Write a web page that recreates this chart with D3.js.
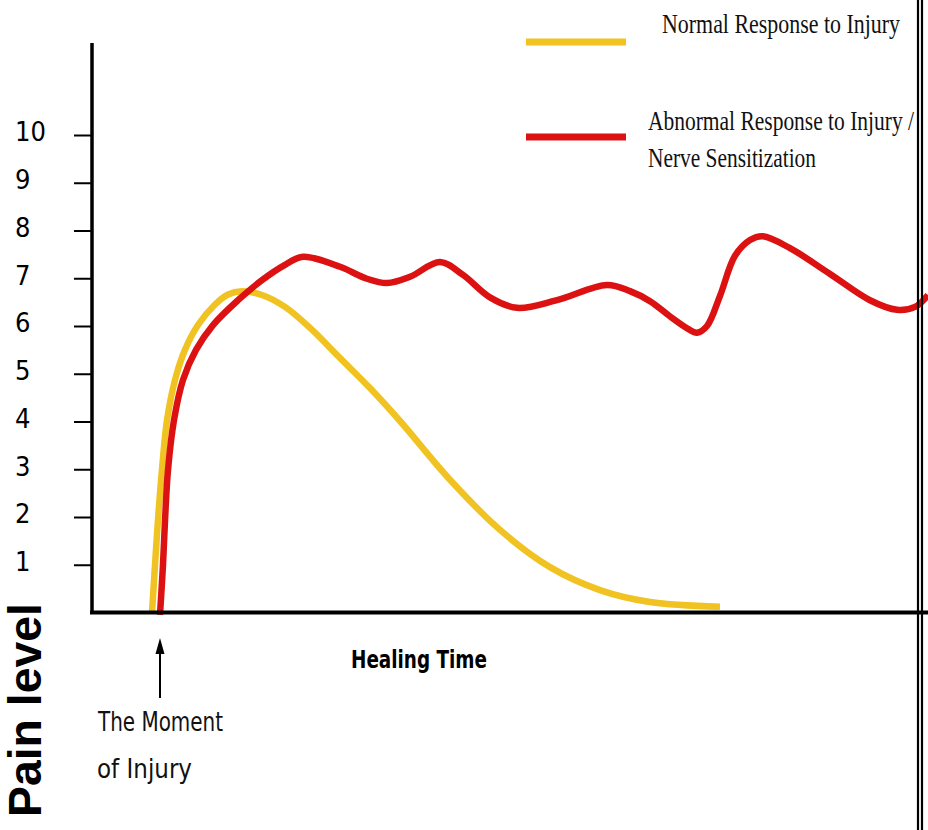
<!DOCTYPE html>
<html>
<head>
<meta charset="utf-8">
<script src="https://cdn.jsdelivr.net/npm/d3@7"></script>
<style>
  html, body { margin: 0; padding: 0; background: #fff; }
  svg { display: block; }
</style>
</head>
<body>
<svg id="chart" width="928" height="830"></svg>
<script>
// ---- data (time units 0..100 along "Healing Time", pain level 0..10) ----
const painTicks = [1, 2, 3, 4, 5, 6, 7, 8, 9, 10];

const normalTime = [7.23, 7.59, 7.95, 8.43, 9.04, 10.0, 11.2, 12.77, 14.82, 16.39, 18.07, 20.48, 23.25, 26.27, 29.88, 33.49, 37.11, 43.13, 49.16, 55.18, 61.2, 67.23, 75.66];
const normalPain = [0, 0.99, 1.94, 2.99, 4.03, 4.87, 5.5, 6.02, 6.45, 6.66, 6.73, 6.65, 6.4, 5.96, 5.33, 4.7, 4.01, 2.78, 1.73, 0.95, 0.47, 0.22, 0.12];

const abnormalTime = [8.19, 8.55, 8.8, 9.16, 9.88, 10.96, 12.53, 14.58, 17.59, 20.48, 23.25, 25.42, 29.88, 33.13, 35.54, 38.31, 41.93, 44.7, 47.95, 51.2, 56.02, 62.05, 64.82, 67.23, 69.88, 71.81, 72.89, 74.1, 75.66, 77.47, 79.28, 80.84, 84.1, 88.92, 93.73, 96.99, 99.16, 100.72];
const abnormalPain = [-0.05, 0.99, 1.94, 2.99, 4.03, 4.87, 5.5, 6.02, 6.54, 6.96, 7.28, 7.45, 7.24, 6.99, 6.9, 7.03, 7.34, 7.07, 6.6, 6.38, 6.54, 6.86, 6.73, 6.52, 6.17, 5.94, 5.86, 6.0, 6.63, 7.47, 7.8, 7.88, 7.63, 7.09, 6.54, 6.34, 6.4, 6.65];

const legendLabels = ["Normal Response to Injury", "Abnormal Response to Injury /", "Nerve Sensitization"];
const colors = { normal: "#f0c322", abnormal: "#dc1212" };

// ---- scales ----
const svg = d3.select("#chart");
const x = d3.scaleLinear().domain([0, 100]).range([92, 922]);
const y = d3.scaleLinear().domain([0, 10]).range([612.5, 135]);

// ---- curves ----
const line = d3.line()
  .x(d => x(d[0]))
  .y(d => y(d[1]))
  .curve(d3.curveCatmullRom.alpha(0.5));

const normal = normalTime.map((t, i) => [t, normalPain[i]]);
const abnormal = abnormalTime.map((t, i) => [t, abnormalPain[i]]);

svg.append("path").datum(normal)
  .attr("d", line).attr("fill", "none")
  .attr("stroke", colors.normal).attr("stroke-width", 6.5)
  .attr("stroke-linejoin", "round");

svg.append("path").datum(abnormal)
  .attr("d", line).attr("fill", "none")
  .attr("stroke", colors.abnormal).attr("stroke-width", 6.5)
  .attr("stroke-linejoin", "round");

// ---- axes ----
const yAxis = d3.axisLeft(y).tickValues(painTicks).tickSize(18).tickFormat(d3.format("d"));
const gy = svg.append("g").attr("transform", "translate(92,0)").call(yAxis);
gy.select(".domain").remove();
gy.selectAll(".tick line").attr("stroke", "#000").attr("stroke-width", 2);
gy.selectAll(".tick text")
  .attr("x", -77).attr("dy", "0.22em")
  .attr("text-anchor", "start")
  .attr("fill", "#000")
  .style("font-family", "'Liberation Sans Narrow', 'DejaVu Sans Condensed', sans-serif")
  .style("font-size", "27px");

// axis lines
svg.append("line").attr("x1", 92).attr("x2", 92).attr("y1", 43).attr("y2", 614)
  .attr("stroke", "#000").attr("stroke-width", 3.5);
svg.append("line").attr("x1", 90).attr("x2", 928).attr("y1", y(0)).attr("y2", y(0))
  .attr("stroke", "#000").attr("stroke-width", 4);

// ---- legend ----
svg.append("line").attr("x1", 526).attr("x2", 626).attr("y1", 42).attr("y2", 42)
  .attr("stroke", colors.normal).attr("stroke-width", 7);
svg.append("line").attr("x1", 526).attr("x2", 626).attr("y1", 137).attr("y2", 137)
  .attr("stroke", colors.abnormal).attr("stroke-width", 7);

const serif = "'Liberation Serif', 'DejaVu Serif', serif";
function legendText(px, py, len, label) {
  svg.append("g").attr("transform", `translate(${px},${py}) scale(1,1.22)`)
    .append("text").attr("x", 0).attr("y", 0)
    .attr("textLength", len).attr("lengthAdjust", "spacingAndGlyphs")
    .style("font-family", serif).style("font-size", "22px").attr("fill", "#111")
    .text(label);
}
legendText(662, 33, 238, legendLabels[0]);
legendText(648, 130, 266, legendLabels[1]);
legendText(648, 167, 168, legendLabels[2]);

// ---- axis titles & annotation ----
svg.append("text").attr("x", 351).attr("y", 668)
  .attr("textLength", 136).attr("lengthAdjust", "spacingAndGlyphs")
  .style("font-family", "'DejaVu Sans Condensed', 'DejaVu Sans', sans-serif")
  .style("font-weight", "bold").style("font-size", "25px").attr("fill", "#000")
  .text("Healing Time");

svg.append("text")
  .attr("transform", "translate(41,817) rotate(-90)")
  .attr("textLength", 214).attr("lengthAdjust", "spacingAndGlyphs")
  .style("font-family", "'Liberation Sans', Arial, sans-serif")
  .style("font-weight", "bold").style("font-size", "46px").attr("fill", "#000")
  .text("Pain level");

// arrow at moment of injury
const injuryTime = abnormalTime[0];
svg.append("line").attr("x1", x(injuryTime)).attr("x2", x(injuryTime))
  .attr("y1", 650).attr("y2", 698).attr("stroke", "#000").attr("stroke-width", 2);
svg.append("path")
  .attr("d", `M${x(injuryTime)},638 L${x(injuryTime) - 4.5},654 L${x(injuryTime) + 4.5},654 Z`)
  .attr("fill", "#000");

const hand = "'DejaVu Sans Condensed', 'Liberation Sans Narrow', sans-serif";
svg.append("text").attr("x", 98).attr("y", 731)
  .attr("textLength", 125).attr("lengthAdjust", "spacingAndGlyphs")
  .style("font-family", hand).style("font-size", "26px").attr("fill", "#111")
  .text("The Moment");
svg.append("text").attr("x", 97).attr("y", 778)
  .attr("textLength", 95).attr("lengthAdjust", "spacingAndGlyphs")
  .style("font-family", hand).style("font-size", "26px").attr("fill", "#111")
  .text("of Injury");

// ---- double border line at right ----
[918, 922].forEach(px => {
  svg.append("line").attr("x1", px).attr("x2", px).attr("y1", 0).attr("y2", 830)
    .attr("stroke", "#000").attr("stroke-width", 2.2);
});
</script>
</body>
</html>
